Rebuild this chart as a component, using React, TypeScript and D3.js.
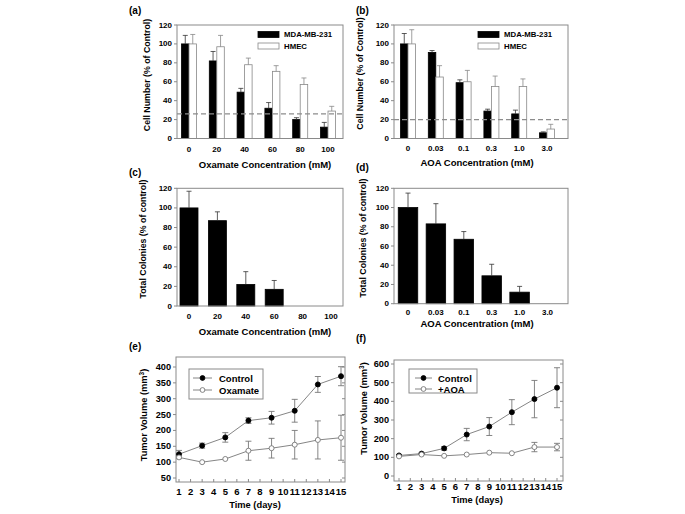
import React from 'react';
import * as d3 from 'd3';

// ---------- DATA ----------
const oxamateConc = ["0", "20", "40", "60", "80", "100"];
const aoaConc = ["0", "0.03", "0.1", "0.3", "1.0", "3.0"];

const aMda = [100, 82, 49, 32, 20, 12];
const aMdaErr = [9, 10, 4, 6, 2, 5];
const aHmec = [100, 97, 78, 71, 57, 29];
const aHmecErr = [10, 12, 7, 6, 7, 5];
const aCutoff = 26;

const bMda = [100, 91, 59, 29, 26, 6];
const bMdaErr = [11, 2, 3, 2, 4, 1];
const bHmec = [100, 65, 60, 55, 55, 10];
const bHmecErr = [15, 12, 12, 11, 8, 5];
const bCutoff = 20;

const cColonies = [100, 87, 22, 17, 0, 0];
const cColoniesErr = [17, 9, 13, 9, 0, 0];

const dColonies = [100, 83, 67, 29, 12, 0];
const dColoniesErr = [15, 21, 8, 12, 6, 0];

const days = [1, 3, 5, 7, 9, 11, 13, 15];
const dayTicks = [1, 2, 3, 4, 5, 6, 7, 8, 9, 10, 11, 12, 13, 14, 15];

const eControl = [125, 152, 178, 231, 240, 262, 345, 371];
const eControlErr = [12, 8, 15, 9, 20, 36, 25, 30];
const eOxamate = [115, 100, 110, 136, 144, 155, 170, 177];
const eOxamateErr = [4, 0, 0, 30, 31, 45, 60, 71];

const fControl = [110, 120, 148, 222, 265, 342, 412, 473];
const fControlErr = [5, 5, 10, 33, 48, 67, 100, 107];
const fAoa = [105, 115, 108, 115, 125, 122, 155, 155];
const fAoaErr = [0, 0, 0, 0, 0, 0, 25, 20];

const barTicks = [0, 20, 40, 60, 80, 100, 120];
const eTicks = [50, 100, 150, 200, 250, 300, 350, 400];
const fTicks = [0, 100, 200, 300, 400, 500, 600];

// ---------- STYLE ----------
const FONT = '"Liberation Sans", Arial, Helvetica, sans-serif';
const FRAME = '#8a8a8a';

type BarSeries = { values: number[]; errs: number[]; fill: string; stroke: string; name?: string };

type BarPanelProps = {
  label: string; labelX: number; labelY: number;
  frame: { l: number; r: number; t: number; b: number };
  cats: string[]; centers: [number, number];
  series: BarSeries[]; barW: number;
  cutoff?: number;
  legend?: { x: number; y: number };
  xTitle: string; xTitleX: number; xTitleY: number; xTickY: number;
  yTitle: string; yTitleX: number; yTitleY: number;
};

function BarPanel(p: BarPanelProps) {
  const x = d3.scalePoint<string>().domain(p.cats).range(p.centers);
  const y = d3.scaleLinear().domain([0, 120]).range([p.frame.b, p.frame.t]);
  const n = p.series.length;
  return (
    <g fontFamily={FONT} fontWeight="bold">
      <text x={p.labelX} y={p.labelY} fontSize={10} dominantBaseline="central">{p.label}</text>
      {p.series.map((s, si) =>
        s.values.map((v, i) => {
          const cx = x(p.cats[i])!;
          const x0 = cx - (n * p.barW) / 2 + si * p.barW;
          const top = y(v);
          const eTop = y(v + s.errs[i]);
          return (
            <g key={`${si}-${i}`}>
              {v > 0 && (
                <rect x={x0} y={top} width={p.barW} height={y(0) - top} fill={s.fill} stroke={s.stroke} strokeWidth={0.8} />
              )}
              {s.errs[i] > 0 && (
                <g stroke={si === 0 ? '#333' : '#888'} strokeWidth={0.8}>
                  <line x1={x0 + p.barW / 2} x2={x0 + p.barW / 2} y1={top} y2={eTop} />
                  <line x1={x0 + p.barW / 2 - 2.5} x2={x0 + p.barW / 2 + 2.5} y1={eTop} y2={eTop} />
                </g>
              )}
            </g>
          );
        })
      )}
      {p.cutoff !== undefined && (
        <line x1={p.frame.l} x2={p.frame.r} y1={y(p.cutoff)} y2={y(p.cutoff)} stroke="#8c8c8c" strokeWidth={1.1} strokeDasharray="5,3" />
      )}
      <rect x={p.frame.l} y={p.frame.t} width={p.frame.r - p.frame.l} height={p.frame.b - p.frame.t} fill="none" stroke={FRAME} strokeWidth={1} />
      {barTicks.map(t => (
        <g key={t}>
          <line x1={p.frame.l - 3} x2={p.frame.l} y1={y(t)} y2={y(t)} stroke={FRAME} />
          <text x={p.frame.l - 5} y={y(t)} fontSize={8} textAnchor="end" dominantBaseline="central">{t}</text>
        </g>
      ))}
      {p.cats.map(c => (
        <text key={c} x={x(c)!} y={p.xTickY} fontSize={8} textAnchor="middle" dominantBaseline="central">{c}</text>
      ))}
      <text x={p.xTitleX} y={p.xTitleY} fontSize={9.5} textAnchor="middle" dominantBaseline="central">{p.xTitle}</text>
      <text transform={`translate(${p.yTitleX},${p.yTitleY}) rotate(-90)`} fontSize={8.8} textAnchor="middle" dominantBaseline="central">{p.yTitle}</text>
      {p.legend && p.series.map((s, si) => (
        <g key={'lg' + si}>
          <rect x={p.legend!.x} y={p.legend!.y + si * 11.5 - 3} width={21} height={6} fill={s.fill} stroke={s.stroke} strokeWidth={0.8} />
          <text x={p.legend!.x + 26} y={p.legend!.y + si * 11.5} fontSize={7.8} dominantBaseline="central">{s.name}</text>
        </g>
      ))}
    </g>
  );
}

type LineSeries = { values: number[]; errs: number[]; filled: boolean; name: string };
type LinePanelProps = {
  label: string; labelX: number; labelY: number;
  frame: { l: number; r: number; t: number; b: number };
  xRange: [number, number]; yDomain: [number, number]; yRange: [number, number]; yTicks: number[];
  series: LineSeries[];
  legend: { l: number; r: number; t: number; b: number; rows: number[]; lx0: number; lx1: number; tx: number };
  xTickY: number; xTitleX: number; xTitleY: number; yTitleX: number; yTitleY: number;
};

function LinePanel(p: LinePanelProps) {
  const x = d3.scaleLinear().domain([1, 15]).range(p.xRange);
  const y = d3.scaleLinear().domain(p.yDomain).range(p.yRange);
  const line = d3.line<number>().x((_, i) => x(days[i])).y(v => y(v));
  return (
    <g fontFamily={FONT} fontWeight="bold">
      <text x={p.labelX} y={p.labelY} fontSize={10} dominantBaseline="central">{p.label}</text>
      <rect x={p.frame.l} y={p.frame.t} width={p.frame.r - p.frame.l} height={p.frame.b - p.frame.t} fill="none" stroke={FRAME} strokeWidth={1} />
      {p.yTicks.map(t => (
        <g key={t}>
          <line x1={p.frame.l - 3} x2={p.frame.l} y1={y(t)} y2={y(t)} stroke={FRAME} />
          <line x1={p.frame.r - 3} x2={p.frame.r} y1={y(t)} y2={y(t)} stroke={FRAME} />
          <text x={p.frame.l - 5} y={y(t)} fontSize={9.2} textAnchor="end" dominantBaseline="central">{t}</text>
        </g>
      ))}
      {dayTicks.map(d => (
        <g key={d}>
          <line x1={x(d)} x2={x(d)} y1={p.frame.b} y2={p.frame.b - 3} stroke={FRAME} />
          <text x={x(d)} y={p.xTickY} fontSize={9.5} textAnchor="middle" dominantBaseline="central">{d}</text>
        </g>
      ))}
      {p.series.map((s, si) => (
        <g key={si}>
          <path d={line(s.values) || ''} fill="none" stroke="#777" strokeWidth={0.9} />
          {s.values.map((v, i) => s.errs[i] > 0 && (
            <g key={i} stroke="#777" strokeWidth={0.9}>
              <line x1={x(days[i])} x2={x(days[i])} y1={y(v - s.errs[i])} y2={y(v + s.errs[i])} />
              <line x1={x(days[i]) - 3} x2={x(days[i]) + 3} y1={y(v - s.errs[i])} y2={y(v - s.errs[i])} />
              <line x1={x(days[i]) - 3} x2={x(days[i]) + 3} y1={y(v + s.errs[i])} y2={y(v + s.errs[i])} />
            </g>
          ))}
          {s.values.map((v, i) => (
            <circle key={'c' + i} cx={x(days[i])} cy={y(v)} r={2.5} fill={s.filled ? '#000' : '#fff'} stroke={s.filled ? '#000' : '#777'} strokeWidth={0.9} />
          ))}
        </g>
      ))}
      <rect x={p.legend.l} y={p.legend.t} width={p.legend.r - p.legend.l} height={p.legend.b - p.legend.t} fill="#fff" stroke={FRAME} strokeWidth={1} />
      {p.series.map((s, si) => (
        <g key={'lg' + si}>
          <line x1={p.legend.lx0} x2={p.legend.lx1} y1={p.legend.rows[si]} y2={p.legend.rows[si]} stroke="#777" strokeWidth={0.9} />
          <circle cx={(p.legend.lx0 + p.legend.lx1) / 2} cy={p.legend.rows[si]} r={2.4} fill={s.filled ? '#000' : '#fff'} stroke={s.filled ? '#000' : '#777'} strokeWidth={0.9} />
          <text x={p.legend.tx} y={p.legend.rows[si]} fontSize={9.5} dominantBaseline="central">{s.name}</text>
        </g>
      ))}
      <text x={p.xTitleX} y={p.xTitleY} fontSize={9.3} textAnchor="middle" dominantBaseline="central">Time (days)</text>
      <text transform={`translate(${p.yTitleX},${p.yTitleY}) rotate(-90)`} fontSize={9.3} textAnchor="middle" dominantBaseline="central">
        Tumor Volume (mm<tspan fontSize={6.5} dy={-3.5}>3</tspan><tspan dy={3.5}>)</tspan>
      </text>
    </g>
  );
}

export default function App() {
  return (
    <svg width={685} height={514} style={{ position: 'absolute', left: 0, top: 0, background: '#fff' }}>
      <rect x={0} y={0} width={685} height={514} fill="#fff" />
      <BarPanel
        label="(a)" labelX={129} labelY={10}
        frame={{ l: 177, r: 343, t: 25, b: 138.5 }}
        cats={oxamateConc} centers={[189, 328]} barW={7.5}
        series={[
          { values: aMda, errs: aMdaErr, fill: '#000', stroke: '#000', name: 'MDA-MB-231' },
          { values: aHmec, errs: aHmecErr, fill: '#fff', stroke: '#888', name: 'HMEC' },
        ]}
        cutoff={aCutoff}
        legend={{ x: 258, y: 34.5 }}
        xTitle="Oxamate Concentration (mM)" xTitleX={265} xTitleY={164} xTickY={149}
        yTitle="Cell Number (% of Control)" yTitleX={147} yTitleY={75}
      />
      <BarPanel
        label="(b)" labelX={356} labelY={10}
        frame={{ l: 394, r: 568, t: 25, b: 138.5 }}
        cats={aoaConc} centers={[408, 547]} barW={7.5}
        series={[
          { values: bMda, errs: bMdaErr, fill: '#000', stroke: '#000', name: 'MDA-MB-231' },
          { values: bHmec, errs: bHmecErr, fill: '#fff', stroke: '#888', name: 'HMEC' },
        ]}
        cutoff={bCutoff}
        legend={{ x: 478, y: 34.5 }}
        xTitle="AOA Concentration (mM)" xTitleX={477} xTitleY={162} xTickY={148}
        yTitle="Cell Number (% of Control)" yTitleX={360} yTitleY={73.5}
      />
      <BarPanel
        label="(c)" labelX={129} labelY={172}
        frame={{ l: 177, r: 343, t: 188.3, b: 306 }}
        cats={oxamateConc} centers={[189, 331]} barW={18}
        series={[{ values: cColonies, errs: cColoniesErr, fill: '#000', stroke: '#000' }]}
        xTitle="Oxamate Concentration (mM)" xTitleX={265} xTitleY={331.5} xTickY={316.5}
        yTitle="Total Colonies (% of control)" yTitleX={143} yTitleY={239}
      />
      <BarPanel
        label="(d)" labelX={356} labelY={167}
        frame={{ l: 394, r: 568, t: 188.3, b: 303.7 }}
        cats={aoaConc} centers={[408, 547.5]} barW={19.5}
        series={[{ values: dColonies, errs: dColoniesErr, fill: '#000', stroke: '#000' }]}
        xTitle="AOA Concentration (mM)" xTitleX={477} xTitleY={323.5} xTickY={312.5}
        yTitle="Total Colonies (% of control)" yTitleX={363} yTitleY={238}
      />
      <LinePanel
        label="(e)" labelX={129} labelY={346}
        frame={{ l: 176, r: 345, t: 357, b: 482 }}
        xRange={[179, 341]} yDomain={[50, 400]} yRange={[478, 367]} yTicks={eTicks}
        series={[
          { values: eControl, errs: eControlErr, filled: true, name: 'Control' },
          { values: eOxamate, errs: eOxamateErr, filled: false, name: 'Oxamate' },
        ]}
        legend={{ l: 189, r: 263, t: 369, b: 399, rows: [378, 390], lx0: 193, lx1: 212, tx: 219 }}
        xTickY={491.5} xTitleX={255} xTitleY={505} yTitleX={144} yTitleY={415}
      />
      <LinePanel
        label="(f)" labelX={356} labelY={338}
        frame={{ l: 394, r: 563, t: 360, b: 481 }}
        xRange={[399, 557]} yDomain={[0, 600]} yRange={[476, 364]} yTicks={fTicks}
        series={[
          { values: fControl, errs: fControlErr, filled: true, name: 'Control' },
          { values: fAoa, errs: fAoaErr, filled: false, name: '+AOA' },
        ]}
        legend={{ l: 409, r: 477, t: 369, b: 393, rows: [378, 389], lx0: 415, lx1: 432, tx: 438 }}
        xTickY={486.5} xTitleX={477} xTitleY={500} yTitleX={364} yTitleY={408.5}
      />
    </svg>
  );
}
